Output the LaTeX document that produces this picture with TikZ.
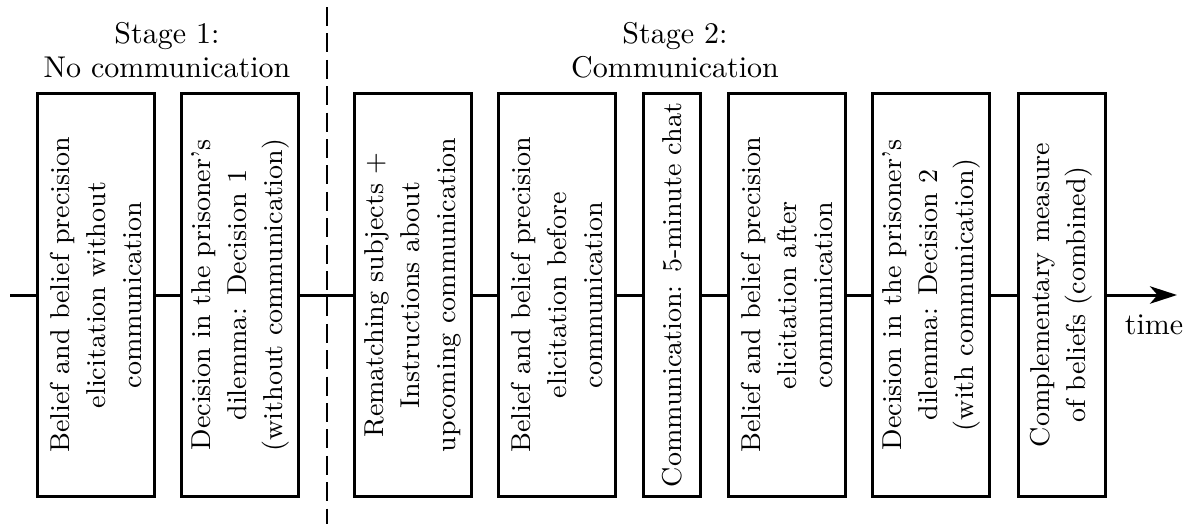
\documentclass[tikz,border=0pt]{standalone}
\usetikzlibrary{arrows.meta}
\begin{document}
\begin{tikzpicture}[x=0.3333pt,y=-0.3333pt,
  stagebox/.style={draw, line width=1pt, fill=white, rotate=90, inner sep=0pt,
    minimum width=134pt, minimum height=38.7pt, align=center,
    font=\fontsize{9.1}{12}\selectfont},
  narrowbox/.style={stagebox, minimum height=19.3pt},
  narrow2box/.style={stagebox, minimum height=29pt},
  timeline/.style={line width=1pt},
  divider/.style={line width=0.7pt, dash pattern=on 6.3pt off 2.5pt},
  heading/.style={align=center, inner sep=0pt, font=\fontsize{10}{11.3}\selectfont}]
\useasboundingbox (0,0) rectangle (1197,524);
\coordinate (start) at (10,295);
\coordinate (end) at (1177,295);
\node[stagebox] (b1) at (96,295) {Belief and belief precision\\elicitation without\\communication};
\node[stagebox] (b2) at (240,295) {Decision in the prisoner's\\dilemma: Decision 1\\(without communication)};
\node[stagebox] (b3) at (413,295) {Rematching subjects +\\Instructions about\\upcoming communication};
\node[stagebox] (b4) at (557,295) {Belief and belief precision\\elicitation before\\communication};
\node[narrowbox] (b5) at (672,295) {Communication: 5-minute chat};
\node[stagebox] (b6) at (787,295) {Belief and belief precision\\elicitation after\\communication};
\node[stagebox] (b7) at (931,295) {Decision in the prisoner's\\dilemma: Decision 2\\(with communication)};
\node[narrow2box] (b8) at (1061.5,295) {Complementary measure\\of beliefs (combined)};
\draw[timeline] (start) -- (b1) (b1) -- (b2) (b2) -- (b3) (b3) -- (b4) (b4) -- (b5) (b5) -- (b6) (b6) -- (b7) (b7) -- (b8);
\draw[timeline, -{Stealth[length=9pt, width=5.8pt, inset=2.5pt]}] (b8) -- (end);
\node[inner sep=0pt] (time) at (1154,325) {time};
\coordinate (dtop) at (327,7);
\coordinate (dbot) at (327,524);
\draw[divider] (dtop) -- (dbot);
\node[heading] (s1) at (167,50) {Stage 1:\\No communication};
\node[heading] (s2) at (675,50) {Stage 2:\\Communication};
\end{tikzpicture}
\end{document}
